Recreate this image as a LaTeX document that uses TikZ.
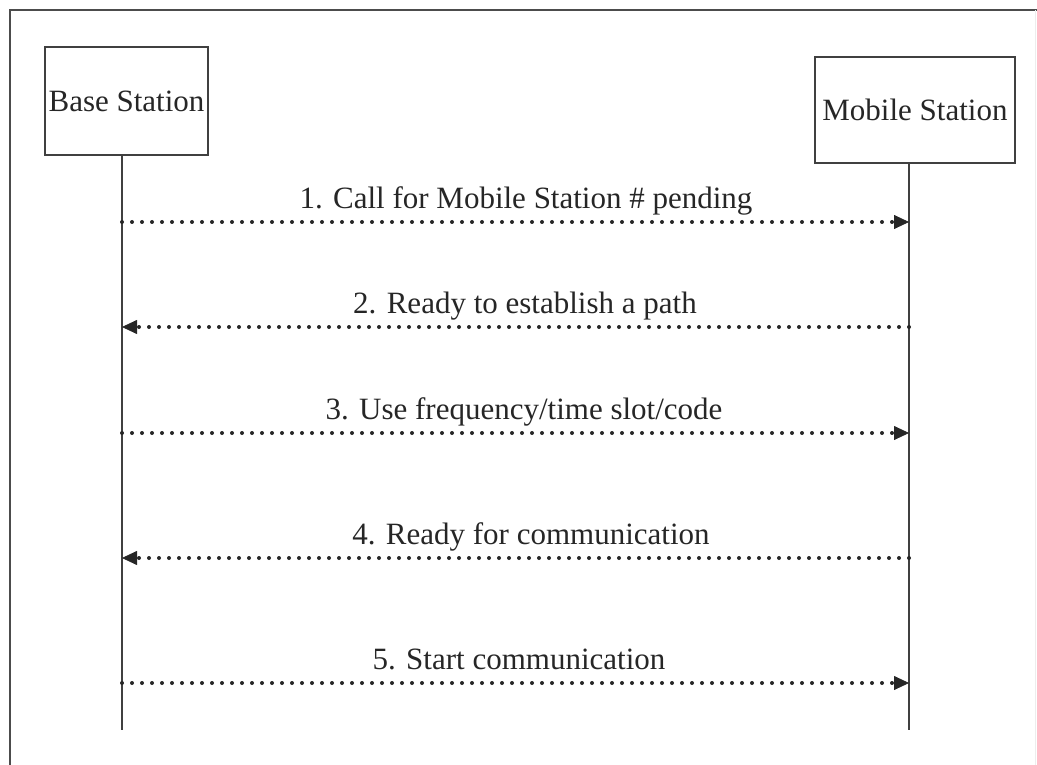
\documentclass[tikz,border=0pt]{standalone}
\usepackage{fontspec}
\setmainfont{Liberation Serif}
\usetikzlibrary{arrows.meta}
\begin{document}
\begin{tikzpicture}[x=1pt,y=-1pt,
  frame/.style={draw=black!70,line width=1.2pt},
  actor/.style={draw=black!75,line width=1.3pt,inner sep=0pt,text=black!85,font=\fontsize{31}{36}\selectfont},
  lifeline/.style={draw=black!75,line width=1.3pt},
  msg/.style={draw=black!85,line width=4pt,line cap=round,dash pattern=on 0pt off 10pt,
    -{Triangle[length=15pt,width=14pt,line width=0.8pt]}},
  msglabel/.style={anchor=base,inner sep=0pt,text=black!85,font=\fontsize{31}{36}\selectfont}]
\useasboundingbox (0,0) rectangle (1037,765);
% outer frame
\draw[frame] (10,765) -- (10,10) -- (1037,10);
\draw[draw=black!7,line width=1pt] (1035,10) -- (1035,765);
% actors
\node[actor,minimum width=163pt,minimum height=108pt] (bs) at (126.5,101) {Base Station};
\node[actor,minimum width=200pt,minimum height=106pt] (ms) at (915,110) {Mobile Station};
% lifelines
\coordinate (bsT) at (122,155);
\coordinate (bsB) at (122,730);
\coordinate (msT) at (909,163);
\coordinate (msB) at (909,730);
\draw[lifeline] (bsT) -- (bsB);
\draw[lifeline] (msT) -- (msB);
% message anchors
\foreach \i/\y in {1/222,2/327,3/433,4/558,5/683}{
  \coordinate (b\i) at (122,\y);
  \coordinate (m\i) at (909,\y);
}
\draw[msg] (b1) -- (m1);
\draw[msg] (m2) -- (b2);
\draw[msg] (b3) -- (m3);
\draw[msg] (m4) -- (b4);
\draw[msg] (b5) -- (m5);
\node[msglabel] (l1) at (526,208.5) {1. Call for Mobile Station \# pending};
\node[msglabel] (l2) at (525,313.5) {2. Ready to establish a path};
\node[msglabel] (l3) at (524,419.5) {3. Use frequency/time slot/code};
\node[msglabel] (l4) at (531,544.5) {4. Ready for communication};
\node[msglabel] (l5) at (519,669.5) {5. Start communication};
\end{tikzpicture}
\end{document}
